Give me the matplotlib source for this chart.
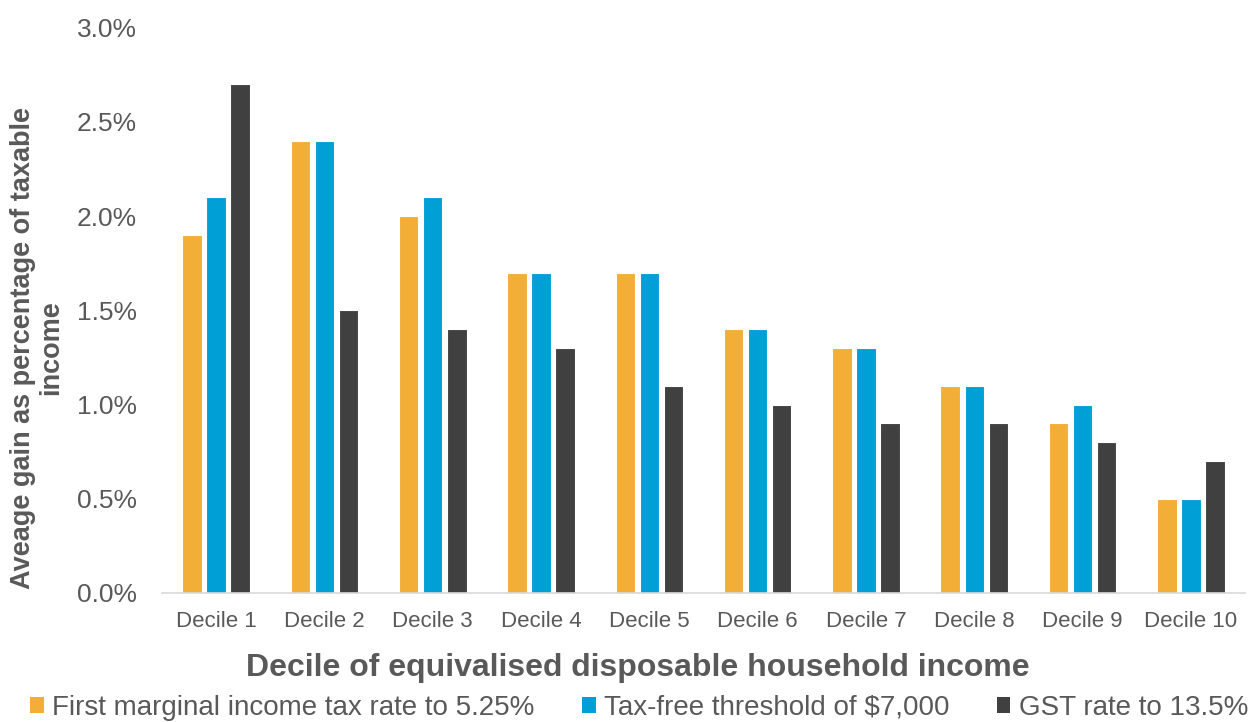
import matplotlib
matplotlib.use("Agg")
import matplotlib.pyplot as plt
from matplotlib.patches import Patch
from matplotlib.ticker import FuncFormatter
import numpy as np

plt.rcParams['font.family'] = ['Liberation Sans', 'DejaVu Sans']

categories = ["Decile 1", "Decile 2", "Decile 3", "Decile 4", "Decile 5",
              "Decile 6", "Decile 7", "Decile 8", "Decile 9", "Decile 10"]
series_names = ["First marginal income tax rate to 5.25%",
                "Tax-free threshold of $7,000",
                "GST rate to 13.5%"]
first_marginal = [1.9, 2.4, 2.0, 1.7, 1.7, 1.4, 1.3, 1.1, 0.9, 0.5]
tax_free = [2.1, 2.4, 2.1, 1.7, 1.7, 1.4, 1.3, 1.1, 1.0, 0.5]
gst_rate = [2.7, 1.5, 1.4, 1.3, 1.1, 1.0, 0.9, 0.9, 0.8, 0.7]
yticks = [0.0, 0.5, 1.0, 1.5, 2.0, 2.5, 3.0]

colors = ["#F2AE37", "#00A0D6", "#404041"]
text_color = "#595959"

W, H = 1248, 722
fig = plt.figure(figsize=(W / 100, H / 100), dpi=100)
ax_left, ax_right, ax_bottom, ax_top = 162, 1245, 593, 27.5
ax = fig.add_axes([ax_left / W, (H - ax_bottom) / H,
                   (ax_right - ax_left) / W, (ax_bottom - ax_top) / H])

x = np.arange(len(categories))
width = 0.18
offsets = [-0.222, 0.0, 0.222]
for vals, off, col in zip([first_marginal, tax_free, gst_rate], offsets, colors):
    ax.bar(x + off, vals, width, color=col, edgecolor="white", linewidth=0.8)

ax.set_ylim(0, 3.0)
ax.set_xlim(-0.5, 9.5)
ax.set_yticks(yticks)
ax.yaxis.set_major_formatter(FuncFormatter(lambda v, p: f"{v:.1f}%"))
ax.set_xticks(x)
ax.set_xticklabels(categories)
ax.tick_params(axis="y", length=0, labelsize=19, labelcolor=text_color, pad=18)
ax.tick_params(axis="x", length=0, labelsize=16, labelcolor=text_color, pad=13)

for s in ["top", "right", "left"]:
    ax.spines[s].set_visible(False)
ax.spines["bottom"].set_color("#D9D9D9")
ax.spines["bottom"].set_linewidth(1.2)

ax.set_xlabel("Decile of equivalised disposable household income",
              fontsize=23, fontweight="bold", color=text_color)
ax.xaxis.label.set_va("center")
ax.xaxis.set_label_coords((638 - ax_left) / (ax_right - ax_left),
                          -(668 - ax_bottom) / (ax_bottom - ax_top))

fig.text(37 / W, (H - 348) / H, "Aveage gain as percentage of taxable\nincome",
         rotation=90, ha="center", va="center", fontsize=19.5, fontweight="bold",
         color=text_color, linespacing=1.1, multialignment="center")

handles = [Patch(facecolor=c, edgecolor="none") for c in colors]
leg = fig.legend(handles, series_names, loc="center", ncol=3,
                 bbox_to_anchor=(639 / W, 1 - 708 / H), frameon=False,
                 fontsize=20, handlelength=0.5, handleheight=0.5,
                 handletextpad=0.3, columnspacing=1.7, borderpad=0)
for t in leg.get_texts():
    t.set_color(text_color)

fig.savefig("out.png", dpi=100)
